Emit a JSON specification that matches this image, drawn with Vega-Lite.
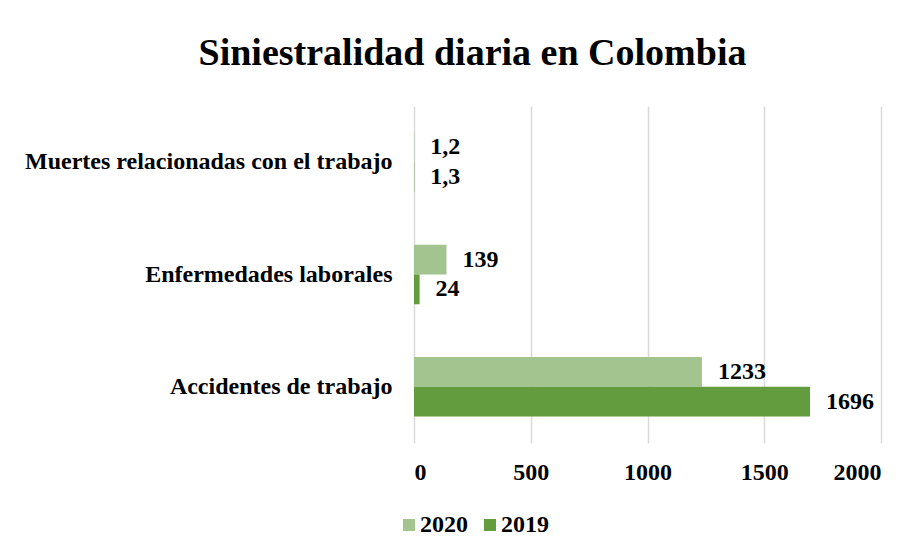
{
  "$schema": "https://vega.github.io/schema/vega-lite/v6.json",
  "width": 467,
  "height": 337,
  "autosize": {"type": "none"},
  "padding": {"left": 414, "top": 106, "right": 41, "bottom": 112},
  "background": "white",
  "title": {
    "text": "Siniestralidad diaria en Colombia",
    "font": "Liberation Serif",
    "fontSize": 38,
    "fontWeight": "bold",
    "color": "black",
    "anchor": "middle",
    "dx": -175,
    "offset": 33
  },
  "data": {
    "values": [
      {"categoria": "Muertes relacionadas con el trabajo", "anio": "2020", "valor": 1.2, "etiqueta": "1,2"},
      {"categoria": "Muertes relacionadas con el trabajo", "anio": "2019", "valor": 1.3, "etiqueta": "1,3"},
      {"categoria": "Enfermedades laborales", "anio": "2020", "valor": 139, "etiqueta": "139"},
      {"categoria": "Enfermedades laborales", "anio": "2019", "valor": 24, "etiqueta": "24"},
      {"categoria": "Accidentes de trabajo", "anio": "2020", "valor": 1233, "etiqueta": "1233"},
      {"categoria": "Accidentes de trabajo", "anio": "2019", "valor": 1696, "etiqueta": "1696"}
    ]
  },
  "encoding": {
    "y": {
      "field": "categoria",
      "type": "nominal",
      "sort": ["Muertes relacionadas con el trabajo", "Enfermedades laborales", "Accidentes de trabajo"],
      "scale": {"paddingInner": 0.47, "paddingOuter": 0.235},
      "axis": {
        "title": null,
        "domain": false,
        "ticks": false,
        "labelPadding": 22,
        "labelFont": "Liberation Serif",
        "labelFontSize": 24,
        "labelFontWeight": "bold",
        "labelColor": "black",
        "labelLimit": 500
      }
    },
    "yOffset": {
      "field": "anio",
      "type": "nominal",
      "sort": ["2020", "2019"]
    },
    "x": {
      "field": "valor",
      "type": "quantitative",
      "scale": {"domain": [0, 2000], "nice": false},
      "axis": {
        "title": null,
        "values": [0, 500, 1000, 1500, 2000],
        "format": "d",
        "domain": false,
        "ticks": false,
        "labelPadding": 17,
        "labelFont": "Liberation Serif",
        "labelFontSize": 24,
        "labelFontWeight": "bold",
        "labelColor": "black",
        "gridColor": "#d9d9d9",
        "gridWidth": 1.5
      }
    }
  },
  "layer": [
    {
      "mark": {"type": "bar"},
      "encoding": {
        "color": {
          "field": "anio",
          "type": "nominal",
          "sort": ["2020", "2019"],
          "scale": {"domain": ["2020", "2019"], "range": ["#a3c48f", "#629c3f"]},
          "legend": {
            "title": null,
            "orient": "none",
            "direction": "horizontal",
            "legendX": -17,
            "legendY": 407,
            "symbolType": "square",
            "symbolSize": 144,
            "symbolStrokeWidth": 0,
            "labelFont": "Liberation Serif",
            "labelFontSize": 24,
            "labelFontWeight": "bold",
            "labelColor": "black",
            "columnPadding": 10,
            "labelOffset": -1,
            "padding": 0
          }
        }
      }
    },
    {
      "mark": {
        "type": "text",
        "align": "left",
        "baseline": "middle",
        "dx": 16,
        "font": "Liberation Serif",
        "fontSize": 24,
        "fontWeight": "bold",
        "color": "black"
      },
      "encoding": {
        "text": {"field": "etiqueta", "type": "nominal"}
      }
    }
  ],
  "config": {
    "view": {"stroke": null}
  }
}
